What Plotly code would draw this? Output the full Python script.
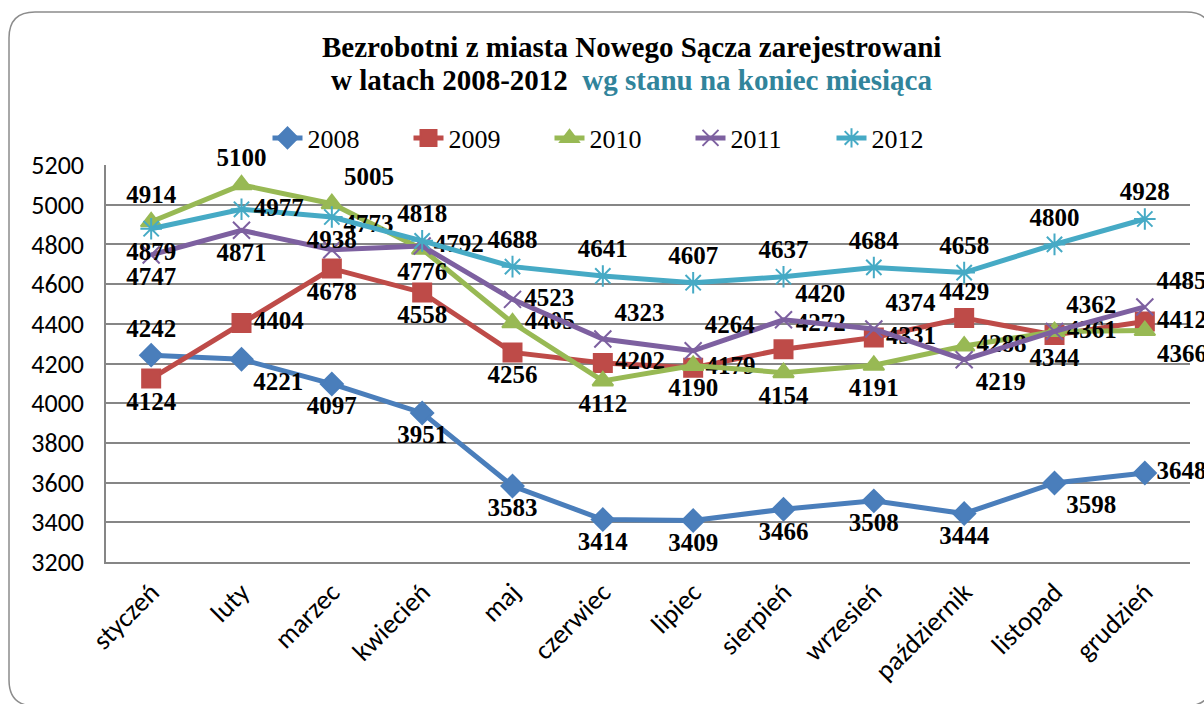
import plotly.graph_objects as go

months = ["styczeń", "luty", "marzec", "kwiecień", "maj", "czerwiec", "lipiec",
          "sierpień", "wrzesień", "październik", "listopad", "grudzień"]
years = ["2008", "2009", "2010", "2011", "2012"]

v2008 = [4242, 4221, 4097, 3951, 3583, 3414, 3409, 3466, 3508, 3444, 3598, 3648]
v2009 = [4124, 4404, 4678, 4558, 4256, 4202, 4179, 4272, 4331, 4429, 4344, 4412]
v2010 = [4914, 5100, 5005, 4776, 4405, 4112, 4190, 4154, 4191, 4288, 4361, 4366]
v2011 = [4747, 4871, 4773, 4792, 4523, 4323, 4264, 4420, 4374, 4219, 4362, 4485]
v2012 = [4879, 4977, 4938, 4818, 4688, 4641, 4607, 4637, 4684, 4658, 4800, 4928]
series = [v2008, v2009, v2010, v2011, v2012]

y_ticks = [3200, 3400, 3600, 3800, 4000, 4200, 4400, 4600, 4800, 5000, 5200]

# styles (kept apart from data)
colors = ["#4A7EBB", "#BE4B48", "#98B954", "#7D60A0", "#46AAC5"]
symbols = ["diamond", "square", "triangle-up", "x-thin-open", "asterisk-open"]
msizes = [17, 18, 18, 17, 18]
TC, BC, MR, TR, BR = "top center", "bottom center", "middle right", "top right", "bottom right"
positions = [
    [TC, BR, BC, BC, BC, BC, BC, BC, BC, BC, BR, MR],
    [BC, MR, BC, BC, BC, MR, MR, TR, MR, TC, BC, MR],
    [TC, TC, TR, BC, MR, BC, BC, BC, BC, MR, MR, BR],
    [BC, BC, TR, MR, MR, TR, TR, TR, TR, BR, TR, TR],
    [BC, MR, BC, TC, TC, TC, TC, TC, TC, TC, TC, TC],
]

W, H = 1204, 704
# plot area in reference-picture pixels
PL, PR, PT, PB = 106, 1190, 165, 562
L, T, R, B = PL, PT, W - PR, H - PB
PW, PH = PR - PL, PB - PT

def px(x):
    return (x - PL) / PW

def py(y):
    return (PB - y) / PH

SERIF = "Liberation Serif, Times New Roman, serif"
SANS = "Carlito, Lato, Liberation Sans, sans-serif"

fig = go.Figure()
for name, vals, col, sym, ms, pos in zip(years, series, colors, symbols, msizes, positions):
    fig.add_trace(go.Scatter(
        x=months, y=vals, name=name, mode="lines+markers+text",
        line=dict(color=col, width=5),
        marker=dict(symbol=sym, size=ms, color=col, line=dict(color=col, width=2)),
        text=[str(v) for v in vals], textposition=pos,
        textfont=dict(family=SERIF, size=25, color="black", weight="bold"),
        cliponaxis=False,
    ))

# rounded chart border
x0, y0, x1, y1, r = 9, 12, 1212, 706, 26
path = (f"M {px(x0 + r)},{py(y0)} L {px(x1 - r)},{py(y0)} "
        f"Q {px(x1)},{py(y0)} {px(x1)},{py(y0 + r)} "
        f"L {px(x1)},{py(y1 - r)} Q {px(x1)},{py(y1)} {px(x1 - r)},{py(y1)} "
        f"L {px(x0 + r)},{py(y1)} Q {px(x0)},{py(y1)} {px(x0)},{py(y1 - r)} "
        f"L {px(x0)},{py(y0 + r)} Q {px(x0)},{py(y0)} {px(x0 + r)},{py(y0)} Z")

fig.update_layout(
    width=W, height=H,
    margin=dict(l=L, r=R, t=T, b=B),
    paper_bgcolor="white", plot_bgcolor="white",
    showlegend=True,
    legend=dict(orientation="h", x=px(620), xanchor="center", y=py(138), yanchor="middle",
                font=dict(family=SERIF, size=26, color="black"),
                entrywidth=96, entrywidthmode="pixels", bgcolor="rgba(0,0,0,0)"),
    shapes=[dict(type="path", path=path, xref="paper", yref="paper",
                 line=dict(color="#8C8C8C", width=1.5), layer="below")],
    annotations=[
        dict(text="<b>Bezrobotni z miasta Nowego Sącza zarejestrowani</b>",
             x=px(631), y=py(47), xref="paper", yref="paper", xanchor="center", yanchor="middle",
             showarrow=False, font=dict(family=SERIF, size=29, color="black")),
        dict(text="<b>w latach 2008-2012  <span style='color:#31849B'>wg stanu na koniec miesiąca</span></b>",
             x=px(631), y=py(80), xref="paper", yref="paper", xanchor="center", yanchor="middle",
             showarrow=False, font=dict(family=SERIF, size=29, color="black")),
    ],
    xaxis=dict(type="category", tickangle=-45, showgrid=False, showline=True,
               linecolor="#868686", linewidth=1.5, ticks="", ticklabelstandoff=2,
               tickfont=dict(family=SANS, size=27, color="black"),
               range=[-0.5, 11.5]),
    yaxis=dict(range=[3200, 5200], tickvals=y_ticks, showgrid=True, gridcolor="#868686",
               gridwidth=1.5, showline=True, linecolor="#868686", linewidth=1.5,
               zeroline=False, ticks="", ticklabelstandoff=15,
               tickfont=dict(family=SANS, size=26, color="black")),
)

fig.write_html("out.html", config={"displayModeBar": False},
               post_script="document.body.style.margin='0';document.body.style.overflow='hidden';")
